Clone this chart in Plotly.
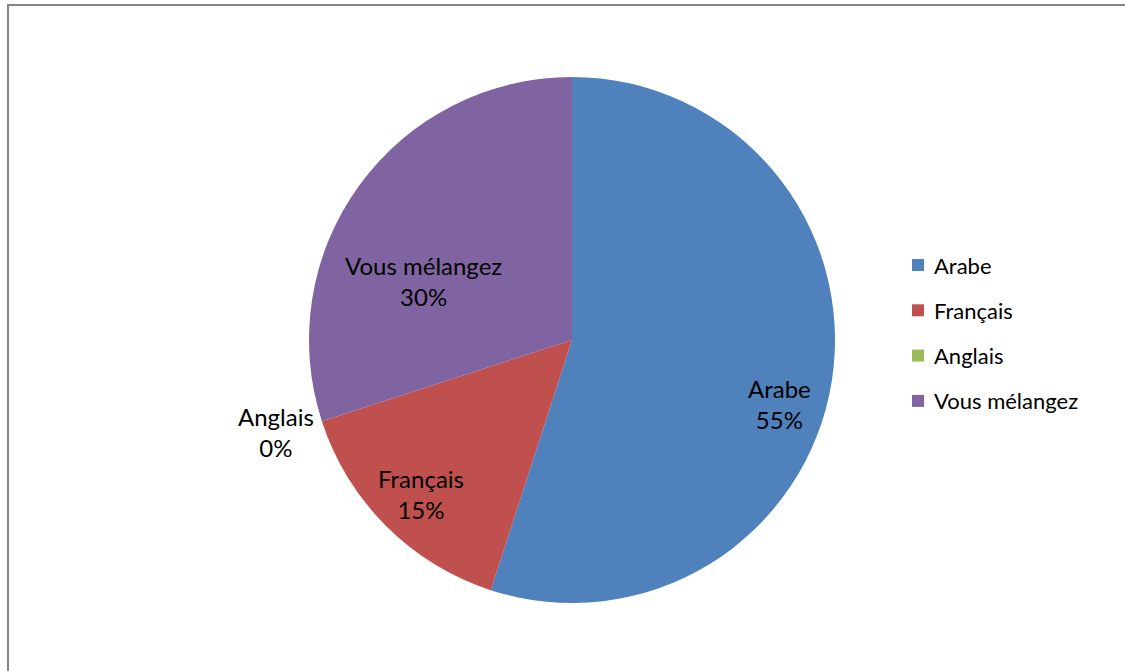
import plotly.graph_objects as go

categories = ["Arabe", "Français", "Anglais", "Vous mélangez"]
values = [55, 15, 0, 30]
colors = ["#4F81BD", "#C0504D", "#9BBB59", "#8064A2"]

W, H = 1125, 671
FONT = "Lato"

# pie geometry (pixels)
cx, cy, r = 572, 340, 263

fig = go.Figure()
fig.add_trace(go.Pie(
    labels=categories, values=values, sort=False, direction="clockwise",
    rotation=0, marker=dict(colors=colors, line=dict(width=0)),
    textinfo="none", hoverinfo="label+percent", showlegend=False,
    domain=dict(x=[(cx - r) / W, (cx + r) / W], y=[1 - (cy + r) / H, 1 - (cy - r) / H]),
))

def px(x, y):
    return x / W, 1 - y / H

# data labels
label_pos = [(779, 404), (421, 494), (276, 432), (423, 281)]
total = sum(values)
for cat, v, (lx, ly) in zip(categories, values, label_pos):
    x, y = px(lx, ly)
    fig.add_annotation(x=x, y=y, xref="paper", yref="paper", showarrow=False,
                       text=f"{cat}<br>{round(100 * v / total)}%",
                       font=dict(family=FONT, size=24, color="#000000"),
                       xanchor="center", yanchor="middle")

# legend
leg_x, leg_y0, leg_dy, sq = 912, 265, 45.3, 12
for i, (cat, col) in enumerate(zip(categories, colors)):
    yc = leg_y0 + i * leg_dy
    x0, y0 = px(leg_x, yc - sq / 2)
    x1, y1 = px(leg_x + sq, yc + sq / 2)
    fig.add_shape(type="rect", xref="paper", yref="paper", x0=x0, x1=x1, y0=y1, y1=y0,
                  fillcolor=col, line=dict(width=0))
    tx, ty = px(leg_x + sq + 8, yc)
    fig.add_annotation(x=tx, y=ty, xref="paper", yref="paper", showarrow=False,
                       text=cat, font=dict(family=FONT, size=22, color="#000000"),
                       xanchor="left", yanchor="middle")

# outer border
bx0, by0 = px(8, 5)
fig.add_shape(type="rect", xref="paper", yref="paper", x0=bx0, x1=1.05, y0=-0.05, y1=by0,
              line=dict(color="#868686", width=2), fillcolor="rgba(0,0,0,0)")

fig.update_layout(width=W, height=H, margin=dict(l=0, r=0, t=0, b=0),
                  paper_bgcolor="white", plot_bgcolor="white", showlegend=False)

fig.write_html("out.html", config={"displayModeBar": False},
               post_script="document.body.style.margin='0';document.body.style.overflow='hidden';")
